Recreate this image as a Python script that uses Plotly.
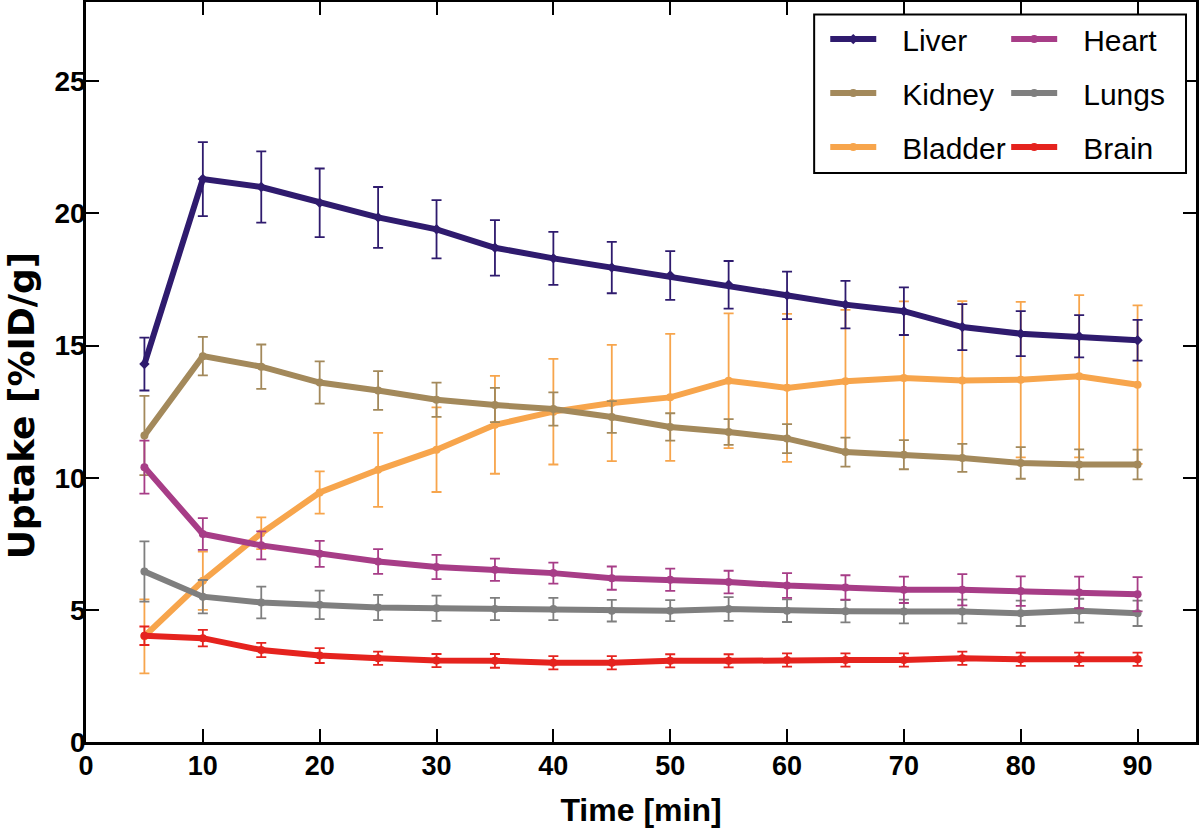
import plotly.graph_objects as go

time_min = [5, 10, 15, 20, 25, 30, 35, 40, 45, 50, 55, 60, 65, 70, 75, 80, 85, 90]

liver = [14.3, 21.3, 21.0, 20.4, 19.85, 19.4, 18.7, 18.3, 17.95, 17.65, 17.3, 16.9, 16.55, 16.3, 15.7, 15.45, 15.35, 15.2]
liver_err = [1.0, 1.4, 1.35, 1.3, 1.15, 1.1, 1.05, 1.0, 0.97, 0.92, 0.9, 0.9, 0.9, 0.9, 0.87, 0.85, 0.8, 0.77]

kidney = [11.6, 14.6, 14.2, 13.6, 13.3, 12.95, 12.75, 12.6, 12.3, 11.92, 11.73, 11.48, 10.97, 10.87, 10.75, 10.56, 10.5, 10.5]
kidney_err = [1.5, 0.73, 0.84, 0.8, 0.73, 0.65, 0.65, 0.63, 0.6, 0.52, 0.49, 0.55, 0.55, 0.55, 0.53, 0.6, 0.57, 0.56]

bladder = [4.0, 6.1, 7.9, 9.44, 10.3, 11.06, 12.0, 12.5, 12.83, 13.04, 13.67, 13.4, 13.65, 13.77, 13.68, 13.71, 13.84, 13.52]
bladder_err = [1.4, 1.1, 0.6, 0.8, 1.4, 1.6, 1.85, 2.0, 2.2, 2.4, 2.55, 2.8, 2.7, 2.9, 3.0, 2.94, 3.07, 3.0]

heart = [10.4, 7.87, 7.44, 7.12, 6.83, 6.62, 6.52, 6.39, 6.2, 6.14, 6.05, 5.92, 5.85, 5.76, 5.76, 5.71, 5.66, 5.59]
heart_err = [1.0, 0.6, 0.53, 0.49, 0.47, 0.46, 0.42, 0.4, 0.44, 0.42, 0.43, 0.47, 0.46, 0.5, 0.59, 0.56, 0.6, 0.65]

lungs = [6.45, 5.5, 5.28, 5.19, 5.09, 5.06, 5.03, 5.03, 4.97, 4.97, 5.03, 4.97, 4.95, 4.94, 4.94, 4.87, 4.97, 4.87]
lungs_err = [1.14, 0.63, 0.6, 0.54, 0.48, 0.48, 0.42, 0.42, 0.41, 0.4, 0.45, 0.43, 0.42, 0.45, 0.45, 0.48, 0.45, 0.48]

brain = [4.02, 3.93, 3.48, 3.27, 3.17, 3.08, 3.07, 3.0, 3.0, 3.07, 3.07, 3.1, 3.1, 3.1, 3.17, 3.13, 3.13, 3.13]
brain_err = [0.35, 0.31, 0.27, 0.28, 0.25, 0.25, 0.26, 0.25, 0.25, 0.25, 0.25, 0.25, 0.25, 0.25, 0.25, 0.25, 0.25, 0.25]

# name, values, errors, color, marker symbol, legend, rank
series = [
    ("Bladder", bladder, bladder_err, "#f7a54c", "circle", "legend", 3),
    ("Kidney", kidney, kidney_err, "#a3895b", "circle", "legend", 2),
    ("Lungs", lungs, lungs_err, "#7f7f7f", "circle", "legend2", 2),
    ("Heart", heart, heart_err, "#a73d87", "circle", "legend2", 1),
    ("Brain", brain, brain_err, "#e5231e", "circle", "legend2", 3),
    ("Liver", liver, liver_err, "#2f1b6e", "diamond", "legend", 1),
]

GAP = "\u2002\u2009"

fig = go.Figure()
for name, vals, errs, color, sym, leg, rank in series:
    fig.add_trace(go.Scatter(
        x=time_min, y=vals, name=GAP + name, mode="lines+markers",
        line=dict(color=color, width=6),
        marker=dict(color=color, size=8, symbol=sym),
        error_y=dict(type="data", array=errs, visible=True, color=color,
                     thickness=1.8, width=5),
        legend=leg, legendrank=rank, legendgroup=name,
    ))

xtick_font = dict(family="Liberation Sans, Arial, sans-serif", size=27, color="black", weight="bold")
ytick_font = dict(family="Liberation Sans, Arial, sans-serif", size=28, color="black", weight="bold")
xtitle_font = dict(family="Liberation Sans, Arial, sans-serif", size=32, color="black", weight="bold")
ytitle_font = dict(family="DejaVu Sans, sans-serif", size=36, color="black", weight="bold")
leg_font = dict(family="Liberation Sans, Arial, sans-serif", size=30, color="black")

fig.update_layout(
    width=1200, height=833,
    margin=dict(l=86, r=4, t=2, b=91, autoexpand=False),
    paper_bgcolor="white", plot_bgcolor="white",
    xaxis=dict(range=[0, 95], tickmode="array", tickvals=[0, 10, 20, 30, 40, 50, 60, 70, 80, 90],
               ticks="inside", ticklen=13, tickwidth=2, tickcolor="black",
               showline=True, linecolor="black", linewidth=2.5, mirror="ticks",
               showgrid=False, zeroline=False, tickfont=xtick_font, automargin=False,
               ticklabelstandoff=-2,
               title=dict(text="Time [min]", font=xtitle_font, standoff=19)),
    yaxis=dict(range=[0, 28], tickmode="array", tickvals=[0, 5, 10, 15, 20, 25],
               ticks="inside", ticklen=13, tickwidth=2, tickcolor="black",
               showline=True, linecolor="black", linewidth=2.5, mirror="ticks",
               showgrid=False, zeroline=False, tickfont=ytick_font, automargin=False,
               ticklabelstandoff=-8),
    annotations=[dict(text="Uptake [%ID/g]", textangle=-90, showarrow=False,
                      xref="paper", yref="paper", x=-0.0585, y=0.455,
                      xanchor="center", yanchor="middle", font=ytitle_font)],
    legend=dict(x=0.666, y=0.985, xanchor="left", yanchor="top", font=leg_font,
                bgcolor="rgba(0,0,0,0)", borderwidth=0, tracegroupgap=12,
                itemwidth=46, traceorder="grouped"),
    legend2=dict(x=0.829, y=0.985, xanchor="left", yanchor="top", font=leg_font,
                 bgcolor="rgba(0,0,0,0)", borderwidth=0, tracegroupgap=12,
                 itemwidth=46, traceorder="grouped"),
    shapes=[dict(type="rect", xref="paper", yref="paper",
                 x0=0.656, x1=0.991, y0=0.769, y1=0.983,
                 line=dict(color="black", width=2), fillcolor="white", layer="above")],
)

fig.write_html("out.html", config={"displayModeBar": False},
               post_script="document.body.style.margin='0';")
